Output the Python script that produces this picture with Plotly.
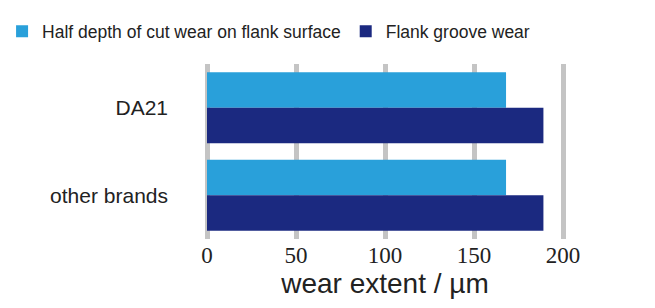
import plotly.graph_objects as go

categories = ["DA21", "other brands"]
half_depth_wear = [168, 168]
flank_groove_wear = [189, 189]
series_names = ["Half depth of cut wear on flank surface", "Flank groove wear"]
x_ticks = [0, 50, 100, 150, 200]

fig = go.Figure()
fig.add_trace(go.Bar(y=categories, x=half_depth_wear, orientation="h",
                     name=series_names[0], marker=dict(color="#29A0DA", line=dict(width=0))))
fig.add_trace(go.Bar(y=categories, x=flank_groove_wear, orientation="h",
                     name=series_names[1], marker=dict(color="#1B2980", line=dict(width=0))))

fig.update_layout(
    width=655, height=308,
    margin=dict(l=195, r=96, t=56, b=77, autoexpand=False),
    paper_bgcolor="white", plot_bgcolor="white",
    barmode="group", bargap=0.19, bargroupgap=0,
    showlegend=True,
    legend=dict(orientation="h", xref="paper", yref="paper",
                x=-0.552, y=1.29, xanchor="left", yanchor="top",
                font=dict(family="Liberation Sans", size=17.5, color="#222"),
                traceorder="normal", itemwidth=30,
                bgcolor="rgba(0,0,0,0)"),
    xaxis=dict(range=[-2.25, 202.25], tickvals=x_ticks, showgrid=True,
               gridcolor="#C4C4C4", gridwidth=5, zeroline=False, showline=False,
               tickfont=dict(family="Liberation Serif", size=23, color="#222"),
               title=dict(text="wear extent / µm",
                          font=dict(family="Liberation Sans", size=28, color="#222"),
                          standoff=6)),
    yaxis=dict(autorange="reversed", showgrid=False, zeroline=False, showline=False,
               ticks="", ticklabelstandoff=34,
               tickfont=dict(family="Liberation Sans Narrow, Liberation Sans", size=21, color="#222")),
)

fig.write_html("out.html")
